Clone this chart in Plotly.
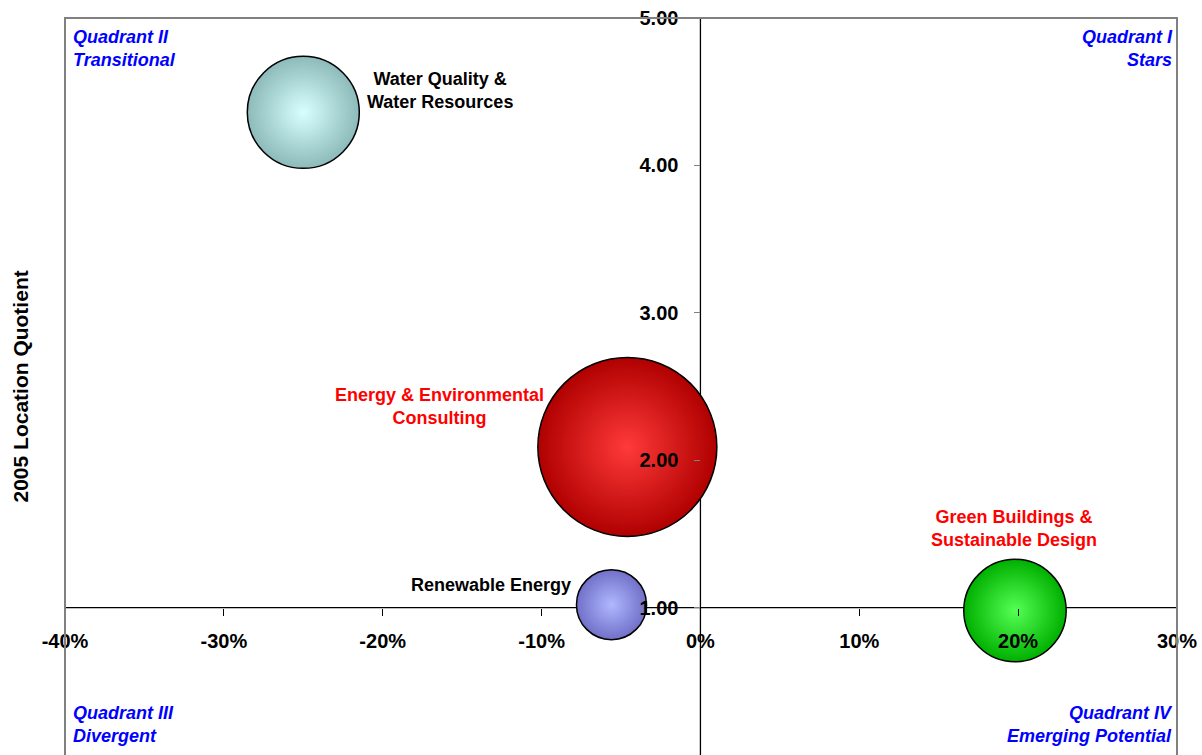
import plotly.graph_objects as go

# ---- data ----
industries = ["Water Quality &<br>Water Resources",
              "Energy & Environmental<br>Consulting",
              "Renewable Energy",
              "Green Buildings &<br>Sustainable Design"]
growth_pct = [-25.0, -4.6, -5.6, 19.8]          # employment growth (x, %)
location_quotient = [4.36, 2.09, 1.02, 0.98]     # 2005 location quotient (y)
bubble_size = [2.56, 6.54, 1.00, 2.14]           # relative employment (bubble area)

x_ticks = [-40, -30, -20, -10, 0, 10, 20, 30]
y_ticks = [1, 2, 3, 4, 5]
x_range = [-40, 30]
y_range = [0, 5]
x_cross = 0      # y-axis crosses here
y_cross = 1.0    # x-axis crosses here

quadrant_labels = ["Quadrant II<br>Transitional", "Quadrant I<br>Stars",
                   "Quadrant III<br>Divergent", "Quadrant IV<br>Emerging Potential"]

# ---- styles ----
FONT = "Liberation Sans, Arial, sans-serif"
edge_colors = ["#8DBABA", "#B00000", "#7070C8", "#00B000"]
center_colors = ["#D8FFFF", "#FF3A3A", "#B0B8FF", "#55FF55"]
label_colors = ["black", "red", "black", "red"]
label_style = [  # xshift, yshift, xanchor
    (137, 22, "center"),
    (-188, 40, "center"),
    (-38, 20, "right"),
    (-1, 82, "center"),
]
max_diam = 179
sizeref = 2.0 * max(bubble_size) / max_diam ** 2

fig = go.Figure()
fig.add_trace(go.Scatter(
    x=growth_pct, y=location_quotient, mode="markers",
    marker=dict(size=bubble_size, sizemode="area", sizeref=sizeref,
                color=edge_colors,
                gradient=dict(type="radial", color=center_colors),
                line=dict(color="black", width=1.5), opacity=1),
    hoverinfo="skip", showlegend=False, cliponaxis=False,
))

for xi, yi, txt, col, (dx, dy, xa) in zip(growth_pct, location_quotient, industries,
                                          label_colors, label_style):
    fig.add_annotation(x=xi, y=yi, xref="x", yref="y", text=txt, showarrow=False,
                       xshift=dx, yshift=dy, xanchor=xa, yanchor="middle", align="center",
                       font=dict(family=FONT, size=18, color=col, weight="bold"))

# quadrant labels
qpos = [(0, 1, "left", "top", 6, -7), (1, 1, "right", "top", -2, -7),
        (0, 0, "left", "bottom", 6, 7), (1, 0, "right", "bottom", -2, 7)]
for txt, (px, py, xa, ya, dx, dy) in zip(quadrant_labels, qpos):
    fig.add_annotation(x=px, y=py, xref="paper", yref="paper", text=f"<i>{txt}</i>",
                       showarrow=False, xanchor=xa, yanchor=ya, align=xa,
                       xshift=dx, yshift=dy,
                       font=dict(family=FONT, size=18, color="#0000FF", weight="bold"))

# y-axis title
fig.add_annotation(x=0, y=0.5, xref="paper", yref="paper", text="2005 Location Quotient",
                   showarrow=False, textangle=-90, xanchor="center", yanchor="middle",
                   xshift=-45, font=dict(family=FONT, size=21, color="black", weight="bold"))

# crossing axis lines (below bubbles)
fig.add_shape(type="line", xref="paper", yref="y", x0=0, x1=1, y0=y_cross, y1=y_cross,
              line=dict(color="black", width=1.3), layer="below")
fig.add_shape(type="line", xref="x", yref="paper", x0=x_cross, x1=x_cross, y0=0, y1=1,
              line=dict(color="black", width=1.3), layer="below")
# plot frame (left, top, right; bottom falls outside the picture)
fig.add_shape(type="path", xref="paper", yref="paper", path="M 0 0 L 0 1 L 1 1 L 1 0",
              line=dict(color="#808080", width=2), layer="above")

fig.update_layout(
    width=1202, height=755,
    margin=dict(l=65, r=25, t=18, b=0),
    paper_bgcolor="white", plot_bgcolor="white",
    xaxis=dict(range=x_range, tickvals=x_ticks, ticktext=[f"{v}%" for v in x_ticks],
               anchor="free", position=(y_cross - y_range[0]) / (y_range[1] - y_range[0]),
               showgrid=False, zeroline=False, showline=False,
               ticks="outside", ticklen=7, tickcolor="black", tickwidth=1,
               ticklabelstandoff=8,
               tickfont=dict(family=FONT, size=20, color="black", weight="bold")),
    yaxis=dict(range=y_range, tickvals=y_ticks, ticktext=[f"{v:.2f}" for v in y_ticks],
               anchor="free", position=(x_cross - x_range[0]) / (x_range[1] - x_range[0]),
               showgrid=False, zeroline=False, showline=False,
               ticks="outside", ticklen=6, tickcolor="#808080", tickwidth=1,
               ticklabelstandoff=12,
               tickfont=dict(family=FONT, size=20, color="black", weight="bold")),
)

fig.write_html("out.html")
